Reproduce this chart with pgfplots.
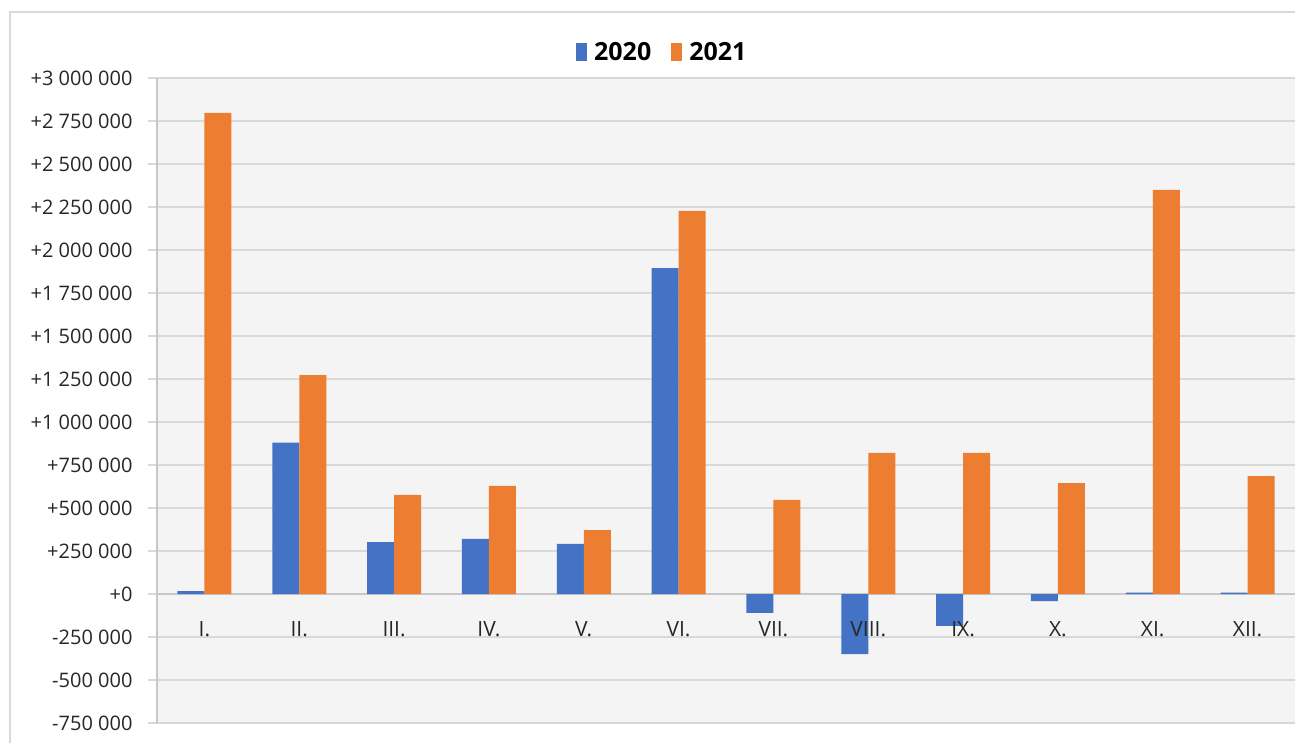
\documentclass[border=0pt]{standalone}
\usepackage{fontspec}
\setmainfont{Open Sans}
\usepackage{pgfplots}
\pgfplotsset{compat=1.18}
\definecolor{c2020}{HTML}{4472C4}
\definecolor{c2021}{HTML}{ED7D31}
\definecolor{gridc}{HTML}{D9D9D9}
\definecolor{axisc}{HTML}{C8C8C8}
\definecolor{plotbg}{HTML}{F4F4F4}
\definecolor{txt}{HTML}{262626}
\begin{document}
\begin{tikzpicture}[x=1pt,y=1pt,
    month/.style={font=\fontsize{21}{24}\selectfont, text=txt, anchor=center, yshift=-35pt}]
\path[use as bounding box] (0,0) rectangle (1295,742);
\draw[gridc, line width=1.5pt] (10,-10) rectangle (1310,730);
\begin{axis}[
    at={(157pt,19pt)}, anchor=south west,
    scale only axis, width=1138pt, height=645pt,
    xmin=-0.5, xmax=11.5,
    ymin=-750000, ymax=3000000,
    ybar=0pt, bar width=27pt,
    axis background/.style={fill=plotbg},
    axis x line*=middle, axis y line*=left,
    axis line style={axisc, line width=1.5pt},
    xtick=\empty,
    minor xtick={0.5,1.5,...,10.5},
    minor tick length=10pt,
    major tick length=9pt,
    tick align=outside,
    ytick={-750000,-500000,...,3000000},
    yticklabels={-750 000,-500 000,-250 000,+0,+250 000,+500 000,+750 000,+1 000 000,+1 250 000,+1 500 000,+1 750 000,+2 000 000,+2 250 000,+2 500 000,+2 750 000,+3 000 000},
    yticklabel style={font=\fontsize{20}{24}\selectfont, text=txt, xshift=-12pt},
    tick style={gridc, line width=1.5pt},
    ymajorgrids,
    grid style={gridc, line width=1.5pt},
    scaled y ticks=false,
    legend style={at={(0.444,1.040)}, anchor=center, draw=none, fill=none,
        font=\fontsize{25}{28}\selectfont\bfseries,
        /tikz/every odd column/.append style={column sep=5pt},
        /tikz/every even column/.append style={column sep=18pt}},
    legend columns=2,
    legend image code/.code={\fill[#1] (0pt,-9pt) rectangle (11pt,9pt);},
]
\addplot[fill=c2020, draw=none] coordinates {
    (0,17000)(1,880000)(2,302000)(3,320000)(4,291000)(5,1895000)
    (6,-110000)(7,-349000)(8,-186000)(9,-42000)(10,8000)(11,8000)
};
\addlegendentry{2020}
\addplot[fill=c2021, draw=none] coordinates {
    (0,2797000)(1,1273000)(2,576000)(3,628000)(4,372000)(5,2227000)
    (6,547000)(7,820000)(8,820000)(9,645000)(10,2349000)(11,686000)
};
\addlegendentry{2021}
% month labels drawn after the bars, so they sit on top like in the original
\node[month] at (axis cs:0,0) {I.};
\node[month] at (axis cs:1,0) {II.};
\node[month] at (axis cs:2,0) {III.};
\node[month] at (axis cs:3,0) {IV.};
\node[month] at (axis cs:4,0) {V.};
\node[month] at (axis cs:5,0) {VI.};
\node[month] at (axis cs:6,0) {VII.};
\node[month] at (axis cs:7,0) {VIII.};
\node[month] at (axis cs:8,0) {IX.};
\node[month] at (axis cs:9,0) {X.};
\node[month] at (axis cs:10,0) {XI.};
\node[month] at (axis cs:11,0) {XII.};
\end{axis}
\end{tikzpicture}
\end{document}
